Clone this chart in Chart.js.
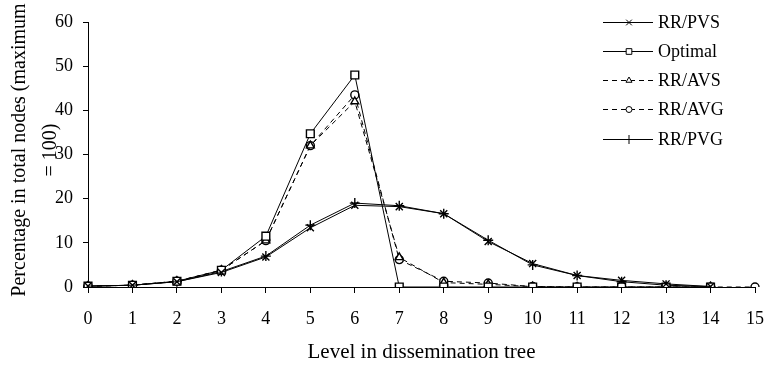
<!DOCTYPE html>
<html>
<head>
<meta charset="utf-8">
<script src="https://cdn.jsdelivr.net/npm/chart.js"></script>
<style>
  body { margin: 0; background: #fff; }
  canvas { display: block; }
</style>
</head>
<body>
<canvas id="chart" width="768" height="365"></canvas>
<script>
// levels of the dissemination tree
const levels = ['0', '1', '2', '3', '4', '5', '6', '7', '8', '9', '10', '11', '12', '13', '14', '15'];

// percentage of total nodes at each level
const rrPVS   = [0.2, 0.4, 1.2, 3.3, 6.8, 13.4, 18.5, 18.2, 16.6, 10.3, 5.3, 2.6, 1.5, 0.7, 0.1, null];
const optimal = [0.2, 0.4, 1.3, 3.8, 11.5, 34.7, 48, 0, 0, 0, 0, 0, 0, 0, 0, null];
const rrAVS   = [0.2, 0.4, 1.3, 3.8, 10.5, 32, 42, 6.7, 1, 0.6, 0.1, 0, 0, 0, 0, null];
const rrAVG   = [0.2, 0.4, 1.3, 3.8, 10.5, 32, 43.5, 6.2, 1.3, 0.9, 0.1, 0, 0, 0, 0, 0];
const rrPVG   = [0.2, 0.4, 1.2, 3.5, 7, 14, 19, 18.4, 16.6, 10.6, 5, 2.6, 1.2, 0.4, 0.1, null];

const yTicks = [0, 10, 20, 30, 40, 50, 60];

const serif = '"Liberation Serif", "Times New Roman", serif';

function series(label, data, style, radius, legendRadius, dashed) {
    return {
        label: label,
        data: data,
        borderColor: '#000',
        borderWidth: 1,
        borderDash: dashed ? [5, 4] : [],
        pointStyle: style,
        pointRadius: radius,
        legendRadius: legendRadius,
        pointBorderColor: '#000',
        pointBackgroundColor: '#fff',
        pointBorderWidth: 1.4,
        fill: false,
        tension: 0,
        spanGaps: false
    };
}

// legend drawn inside the plot, like the original
const legendBox = {
    id: 'legendBox',
    afterDraw(chart) {
        const ctx = chart.ctx;
        ctx.save();
        chart.data.datasets.forEach((ds, i) => {
            const y = Math.round(21.5 + i * 29.3) + 0.5;
            ctx.strokeStyle = '#000';
            ctx.lineWidth = 1;
            ctx.setLineDash(ds.borderDash);
            ctx.beginPath();
            ctx.moveTo(603, y);
            ctx.lineTo(653, y);
            ctx.stroke();
            ctx.setLineDash([]);
            ctx.fillStyle = '#fff';
            Chart.helpers.drawPoint(ctx, {
                pointStyle: ds.pointStyle,
                radius: ds.legendRadius,
                rotation: 0,
                borderWidth: 1.2
            }, 629, y);
            ctx.fillStyle = '#000';
            ctx.font = '18px ' + serif;
            ctx.textBaseline = 'middle';
            ctx.textAlign = 'left';
            ctx.fillText(ds.label, 658, y + 1);
        });
        ctx.restore();
    }
};

// two-line rotated y title that runs into the tick labels
const yTitle = {
    id: 'yTitle',
    afterDraw(chart) {
        const ctx = chart.ctx;
        ctx.save();
        ctx.fillStyle = '#000';
        ctx.font = '20px ' + serif;
        ctx.textAlign = 'center';
        ctx.textBaseline = 'middle';
        ctx.translate(20, 150);
        ctx.rotate(-Math.PI / 2);
        ctx.fillText('Percentage in total nodes (maximum', 0, 0);
        ctx.fillText('= 100)', 0, 31);
        ctx.restore();
    }
};

new Chart(document.getElementById('chart'), {
    type: 'line',
    data: {
        labels: levels,
        datasets: [
            series('RR/PVS', rrPVS, 'crossRot', 5, 4, false),
            series('Optimal', optimal, 'rect', 5.5, 4, false),
            series('RR/AVS', rrAVS, 'triangle', 4.5, 3.5, true),
            series('RR/AVG', rrAVG, 'circle', 4, 3, true),
            series('RR/PVG', rrPVG, 'cross', 5, 4.5, false)
        ]
    },
    options: {
        responsive: false,
        animation: false,
        devicePixelRatio: 1,
        layout: {
            padding: { left: 0, right: 13, top: 22, bottom: 0 }
        },
        plugins: {
            legend: { display: false },
            tooltip: { enabled: false }
        },
        scales: {
            x: {
                offset: false,
                afterFit: s => {
                    s.height = 78;
                    s.paddingLeft = 0;
                    s.paddingRight = 0;
                },
                grid: {
                    display: true,
                    drawOnChartArea: false,
                    drawTicks: true,
                    tickLength: 6,
                    tickColor: '#000'
                },
                border: { display: true, color: '#000', width: 1 },
                ticks: {
                    color: '#000',
                    padding: 15,
                    maxRotation: 0,
                    autoSkip: false,
                    font: { family: serif, size: 18 }
                },
                title: {
                    display: true,
                    text: 'Level in dissemination tree',
                    color: '#000',
                    padding: { top: 0, bottom: 0 },
                    font: { family: serif, size: 21 }
                }
            },
            y: {
                min: 0,
                max: 60,
                afterFit: s => { s.width = 88; },
                afterBuildTicks: s => { s.ticks = yTicks.map(v => ({ value: v })); },
                grid: {
                    display: true,
                    drawOnChartArea: false,
                    drawTicks: true,
                    tickLength: 5,
                    tickColor: '#000'
                },
                border: { display: true, color: '#000', width: 1 },
                ticks: {
                    color: '#000',
                    padding: 10,
                    font: { family: serif, size: 18 }
                }
            }
        }
    },
    plugins: [legendBox, yTitle]
});
</script>
</body>
</html>
